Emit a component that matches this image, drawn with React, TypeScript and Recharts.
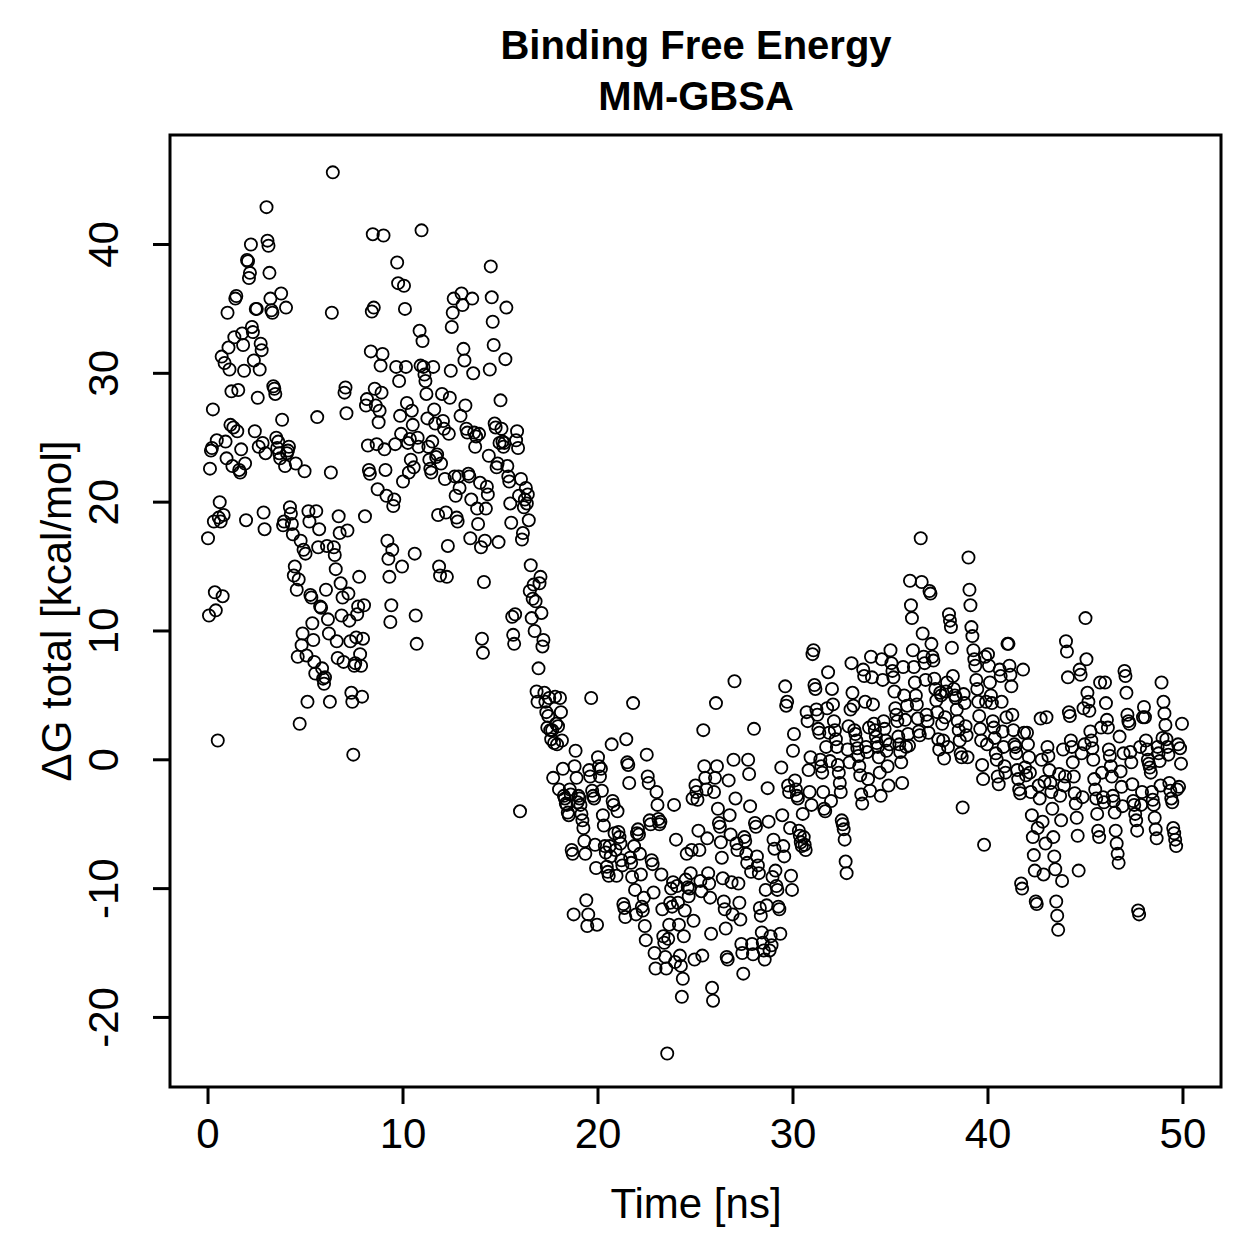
import React from "react";
import {
  ScatterChart,
  Scatter,
  XAxis,
  YAxis,
  ReferenceArea,
} from "recharts";

// MM-GBSA binding free energy, one frame every 50 ps (20 frames per ns)
const FRAME_STEP_NS = 0.05;

const dG_0_10 = [
  17.2, 11.2, 22.6, 24.0, 24.2, 27.2, 18.5, 13.0, 11.6, 24.8, 1.5, 18.8, 20.0, 18.5, 31.3, 12.7, 19.0, 30.8, 24.7, 23.4,
  34.7, 32.0, 30.3, 26.0, 28.6, 22.8, 25.8, 32.8, 35.8, 36.0, 25.5, 28.7, 22.5, 22.3, 24.1, 33.1, 32.2, 30.2, 23.0, 18.6,
  38.8, 38.7, 37.4, 37.8, 40.0, 33.6, 33.2, 31.0, 25.5, 35.0, 35.0, 28.1, 24.3, 30.3, 32.3, 31.8, 24.6, 19.2, 17.9, 23.8,
  42.9, 40.3, 39.9, 37.8, 35.8, 34.9, 34.7, 29.0, 28.8, 28.4, 25.0, 24.2, 24.7, 23.8, 23.4, 36.2, 26.4, 18.2, 18.5, 22.8,
  35.1, 23.8, 24.0, 24.3, 19.6, 19.1, 18.3, 17.5, 14.3, 15.0, 23.0, 13.2, 8.0, 14.0, 2.8, 17.0, 8.9, 9.8, 16.3, 22.4,
  16.0, 8.1, 4.5, 19.3, 18.5, 12.8, 12.6, 10.6, 9.3, 7.6, 6.7, 19.3, 26.6, 16.5, 17.9, 11.9, 11.8, 7.1, 6.3, 5.9,
  6.4, 13.2, 16.6, 10.9, 9.8, 4.5, 22.3, 34.7, 45.6, 16.5, 15.9, 14.8, 9.2, 7.9, 18.9, 17.6, 13.7, 11.2, 12.6, 7.6,
  28.5, 28.9, 26.9, 17.8, 12.9, 10.8, 9.2, 5.2, 4.5, 0.4, 7.3, 7.5, 9.5, 11.3, 11.9, 14.2, 8.2, 7.3, 4.9, 9.4,
  12.0, 18.9, 27.5, 28.0, 24.4, 22.5, 22.2, 31.7, 34.8, 40.8, 35.1, 28.8, 27.5, 24.5, 21.0, 26.2, 27.1, 30.6, 28.5, 31.5,
  40.7, 24.1, 22.5, 20.5, 17.0, 15.6, 14.2, 10.7, 12.0, 16.3, 19.7, 20.2, 24.5, 30.5, 38.6, 37.0, 29.4, 26.7, 25.3, 15.0,
];

const dG_10_20 = [
  21.6, 36.8, 35.0, 30.5, 27.7, 24.6, 22.3, 24.9, 23.3, 27.1, 26.0, 22.7, 16.0, 11.2, 9.0, 25.0, 24.3, 33.3, 30.6, 41.1,
  32.5, 30.5, 29.9, 29.4, 28.4, 26.5, 24.3, 23.3, 22.6, 22.3, 24.7, 30.5, 27.2, 26.1, 23.5, 23.7, 19.0, 15.0, 14.3, 23.0,
  28.4, 26.3, 25.7, 21.8, 19.2, 14.2, 16.6, 25.3, 28.1, 30.2, 33.6, 34.7, 35.8, 22.0, 20.5, 18.8, 18.5, 22.0, 21.1, 26.7,
  36.2, 35.3, 31.9, 31.0, 27.5, 25.7, 25.4, 22.2, 22.0, 17.2, 20.2, 35.8, 30.0, 25.4, 24.3, 25.1, 19.5, 18.3, 25.3, 21.5,
  16.5, 9.4, 8.3, 13.8, 17.0, 19.5, 21.2, 20.6, 23.6, 30.3, 38.3, 35.9, 34.0, 32.2, 26.1, 25.8, 22.7, 23.0, 16.9, 24.6,
  27.9, 25.7, 24.7, 24.3, 24.6, 31.1, 35.1, 22.8, 22.0, 21.6, 19.9, 18.4, 11.1, 9.7, 9.0, 11.3, 24.8, 25.5, 24.2, 20.5,
  -4.0, 21.8, 17.1, 17.6, 19.6, 20.2, 21.1, 19.9, 20.6, 18.6, 13.1, 15.1, 11.0, 12.5, 13.6, 10.0, 12.3, 5.3, 4.5, 7.1,
  13.7, 14.2, 11.4, 8.8, 9.3, 5.2, 4.5, 3.7, 2.5, 3.4, 4.8, 2.3, 1.6, 2.3, -1.4, 1.3, 4.9, 2.8, 1.2, 2.6,
  -2.3, 4.8, 3.7, 1.5, -0.7, -2.8, -3.0, -3.4, -3.5, -4.1, -4.3, -2.3, -2.7, -7.0, -7.3, -12.0, -0.5, 0.7, -1.4, -3.3,
  -2.8, -3.0, -3.5, -4.2, -4.7, -5.3, -6.3, -7.3, -10.9, -12.9, -12.0, -0.8, -1.3, 4.8, -2.4, -2.8, -3.0, -6.6, -8.4, -12.8,
];

const dG_20_30 = [
  0.2, -0.5, -1.3, -0.7, -2.4, -4.3, -5.1, -6.7, -7.2, -8.3, -8.7, -9.0, -6.7, -7.5, 1.2, -3.2, -3.5, -5.7, -7.0, -9.0,
  -4.0, -5.6, -6.0, -6.5, -7.8, -8.2, -11.2, -11.5, -12.2, 1.6, -0.2, -0.4, -1.8, -7.6, -8.0, -9.1, 4.4, -6.7, -10.1, -12.0,
  -5.7, -5.4, -5.8, -7.3, -8.9, -11.4, -11.7, -10.7, -12.9, -14.0, 0.4, -1.3, -1.8, -4.7, -5.0, -7.8, -8.1, -10.3, -15.0, -16.2,
  -2.5, -3.5, -4.6, -5.0, -4.8, -8.9, -11.6, -13.7, -14.2, -15.3, -16.2, -22.8, -13.9, -12.8, -11.1, -10.0, -11.4, -9.5, -3.5, -15.7,
  -6.2, -9.8, -11.1, -12.8, -15.2, -16.0, -18.4, -17.0, -13.7, -11.7, -9.3, -7.3, -9.9, -10.6, -10.0, -8.8, -7.0, -3.0, -12.5, -15.5,
  -2.0, -2.5, -3.1, -5.5, -7.0, -9.4, -10.2, -15.2, 2.3, -0.5, -1.4, -2.3, -6.1, -8.8, -9.6, -10.7, -13.5, -17.7, -18.7, -2.5,
  -1.4, 4.4, -0.5, -3.8, -4.9, -5.2, -6.4, -7.6, -9.2, -11.0, -11.6, -13.1, -15.3, -15.5, -1.6, -4.3, -5.8, -9.5, -12.0, 0.0,
  6.1, -3.0, -6.5, -7.0, -9.6, -11.1, -12.4, -14.3, -15.0, -16.6, -6.0, -6.3, -7.3, -8.0, 0.0, -1.1, -3.6, -8.7, -14.3, -15.1,
  2.4, -4.9, -5.2, -7.5, -8.2, -8.8, -11.5, -12.1, -13.4, -14.2, -14.8, -15.5, -10.1, -11.3, -2.2, -4.8, -14.8, -13.7, -14.4, -9.1,
  -6.2, -6.9, -8.6, -9.8, -10.1, -11.4, -11.6, -13.5, -0.6, -4.3, -6.7, -7.5, 5.7, 4.2, 4.5, -2.0, -2.5, -5.3, -9.0, -10.1,
];

const dG_30_40 = [
  0.7, 2.0, -1.6, -2.3, -2.8, -3.0, -5.5, -5.9, -6.4, -6.7, -4.2, -6.0, -6.6, -7.0, 3.7, 3.0, -0.8, -2.5, 0.2, -3.5,
  8.2, 8.5, 5.8, 5.5, 3.9, 3.5, 2.4, 2.1, 0.0, -0.5, -1.0, -2.5, -3.8, -4.0, 1.0, 4.0, 6.8, 2.1, -0.1, -3.2,
  5.5, 4.3, 3.0, 2.3, 1.6, 1.0, -0.4, -1.0, -1.8, -2.5, -4.7, -5.0, -5.4, -6.2, -7.9, -8.8, 0.8, 2.6, -0.2, 3.9,
  7.5, 5.2, 4.2, 2.3, 2.0, 1.5, 0.9, 0.3, -0.5, -1.2, -2.7, -3.4, 7.0, 6.5, 4.5, 1.0, 0.6, -1.5, 2.5, -2.4,
  8.0, 6.4, 4.3, 2.8, 2.3, 1.8, 1.3, 1.0, 0.2, -1.0, -2.8, 7.8, 6.2, 3.0, 2.4, 1.5, 0.7, -0.5, -2.0, 1.2,
  8.5, 7.5, 6.9, 6.4, 5.3, 4.0, 3.5, 3.0, 1.8, 1.2, 0.6, -0.2, -1.8, 7.2, 5.0, 3.1, 1.0, 4.2, 2.0, 1.1,
  13.9, 12.0, 11.0, 8.5, 7.2, 6.0, 5.0, 4.3, 3.2, 2.2, 1.9, 17.2, 13.8, 9.8, 8.0, 7.5, 6.2, 3.5, 3.0, 2.1,
  13.1, 12.9, 9.0, 8.0, 7.7, 6.3, 5.5, 4.6, 3.7, 1.6, 0.8, 5.2, 5.0, 2.8, 1.5, 0.1, 3.3, 5.3, 6.0, 1.0,
  11.3, 10.8, 10.3, 8.7, 6.5, 5.5, 5.0, 4.8, 3.9, 3.0, 2.3, 1.5, 0.5, 0.2, -3.7, 5.1, 4.4, 2.6, 1.9, 0.2,
  15.7, 13.2, 12.0, 10.3, 9.6, 8.5, 7.8, 7.3, 6.2, 5.5, 4.5, 3.4, 2.4, 1.5, -0.4, -1.5, -6.6, 8.0, 4.5, 1.2,
];

const dG_40_50 = [
  8.2, 7.3, 6.0, 5.0, 4.4, 3.0, 2.5, 1.7, 0.5, 0.0, -1.3, -1.9, 7.0, 6.5, 4.5, 2.2, 1.0, -0.5, -1.0, 3.3,
  9.0, 9.0, 7.3, 6.6, 5.7, 3.5, 2.3, 1.2, 1.0, 0.5, -0.8, -1.5, -2.3, -2.6, -9.6, -10.0, 7.0, 2.1, -0.6, -1.2,
  2.1, 1.2, 0.2, -1.0, -2.5, -4.3, -6.0, -7.4, -8.6, -11.0, -11.2, -5.3, -2.0, -3.0, 3.2, 0.0, -4.8, -8.9, -1.7, -6.5,
  3.3, 1.0, 0.3, -0.8, -1.8, -2.5, -3.8, -6.0, -7.5, -8.5, -11.0, -12.1, -13.2, -1.1, -2.8, -4.7, -9.4, 0.8, -2.0, -1.3,
  9.2, 8.4, 6.4, 3.7, 3.4, 1.5, 1.0, -0.2, -1.3, -2.6, -3.4, -4.5, -5.9, -8.6, 7.0, 6.6, 0.5, -2.9, 4.0, 1.2,
  11.0, 7.8, 5.2, 4.5, 3.8, 2.2, 1.5, 0.9, 0.0, -1.5, -2.3, -3.0, -4.2, -5.5, -6.0, 6.0, 2.5, -1.0, -2.9, -3.3,
  6.0, 4.4, 3.1, 2.5, 0.8, 0.3, -0.5, -1.3, -2.8, -3.2, -4.1, -5.5, -6.5, -7.3, -8.0, 1.8, -0.9, -2.1, -3.6, 0.5,
  6.9, 6.5, 5.2, 3.5, 3.0, 2.8, 0.6, -0.2, -1.9, -3.2, -3.5, -4.2, -4.7, -5.5, -11.7, -12.0, 1.0, -3.5, -2.5, 3.3,
  4.1, 3.3, 1.5, 0.8, 0.0, -0.3, -0.6, -1.0, -2.5, -3.1, -3.5, -4.5, -5.4, -6.1, 1.0, 0.5, -0.1, -2.0, 6.0, 1.7,
  4.5, 3.6, 2.7, 1.6, 1.0, 0.4, -1.8, -2.4, -3.0, -3.3, -5.3, -5.7, -6.2, -6.7, -2.3, 1.2, -2.1, 0.9, -0.3, 2.8,
];

const xTicks = [0, 10, 20, 30, 40, 50];
const yTicks = [-20, -10, 0, 10, 20, 30, 40];

const FONT = "'Liberation Sans', Arial, Helvetica, sans-serif";

const X_DOMAIN: [number, number] = [-1.95, 51.95];
const Y_DOMAIN: [number, number] = [-25.4, 48.5];

const allValues = [...dG_0_10, ...dG_10_20, ...dG_20_30, ...dG_30_40, ...dG_40_50];
const data = allValues.map((dg, i) => ({ time: i * FRAME_STEP_NS, dg }));

const OpenCircle = (props: any) => {
  const { cx, cy } = props;
  if (cx == null || cy == null) return null;
  return <circle cx={cx} cy={cy} r={6.1} fill="none" stroke="#000" strokeWidth={1.8} />;
};

const XTick = ({ x, y, payload }: any) => (
  <text
    x={x}
    y={y + 27}
    textAnchor="middle"
    dominantBaseline="central"
    fontFamily={FONT}
    fontSize={42}
    fill="#000"
  >
    {payload.value}
  </text>
);

const YTick = ({ x, y, payload }: any) => {
  const cx = x - 47;
  return (
    <text
      x={cx}
      y={y}
      textAnchor="middle"
      dominantBaseline="central"
      fontFamily={FONT}
      fontSize={42}
      fill="#000"
      transform={`rotate(-90, ${cx}, ${y})`}
    >
      {payload.value}
    </text>
  );
};

export default function App() {
  return (
    <div style={{ position: "absolute", left: 0, top: 0, width: 1259, height: 1259, background: "#fff" }}>
      <ScatterChart
        width={1259}
        height={1259}
        margin={{ top: 135, right: 38, bottom: 92, left: 70 }}
      >
        <XAxis
          type="number"
          dataKey="time"
          domain={X_DOMAIN}
          ticks={xTicks}
          allowDataOverflow
          axisLine={false}
          tickSize={17}
          tickLine={{ stroke: "#000", strokeWidth: 3 }}
          tick={<XTick />}
          height={80}
        />
        <YAxis
          type="number"
          dataKey="dg"
          domain={Y_DOMAIN}
          ticks={yTicks}
          allowDataOverflow
          axisLine={false}
          tickSize={17}
          tickLine={{ stroke: "#000", strokeWidth: 3 }}
          tick={<YTick />}
          width={100}
        />
        <ReferenceArea
          x1={X_DOMAIN[0]}
          x2={X_DOMAIN[1]}
          y1={Y_DOMAIN[0]}
          y2={Y_DOMAIN[1]}
          fill="none"
          stroke="#000"
          strokeWidth={3}
          ifOverflow="visible"
        />
        <Scatter data={data} shape={<OpenCircle />} isAnimationActive={false} />
      </ScatterChart>

      {/* titles and axis labels */}
      <svg
        width={1259}
        height={1259}
        style={{ position: "absolute", left: 0, top: 0, pointerEvents: "none" }}
      >
        <text x={696} y={45} textAnchor="middle" dominantBaseline="central" fontFamily={FONT} fontSize={40} fontWeight="bold">
          Binding Free Energy
        </text>
        <text x={696} y={96} textAnchor="middle" dominantBaseline="central" fontFamily={FONT} fontSize={40} fontWeight="bold">
          MM-GBSA
        </text>
        <text x={696} y={1203} textAnchor="middle" dominantBaseline="central" fontFamily={FONT} fontSize={42}>
          Time [ns]
        </text>
        <text
          x={56}
          y={611}
          textAnchor="middle"
          dominantBaseline="central"
          fontFamily={FONT}
          fontSize={42}
          transform="rotate(-90, 56, 611)"
        >
          ΔG total [kcal/mol]
        </text>
      </svg>
    </div>
  );
}
